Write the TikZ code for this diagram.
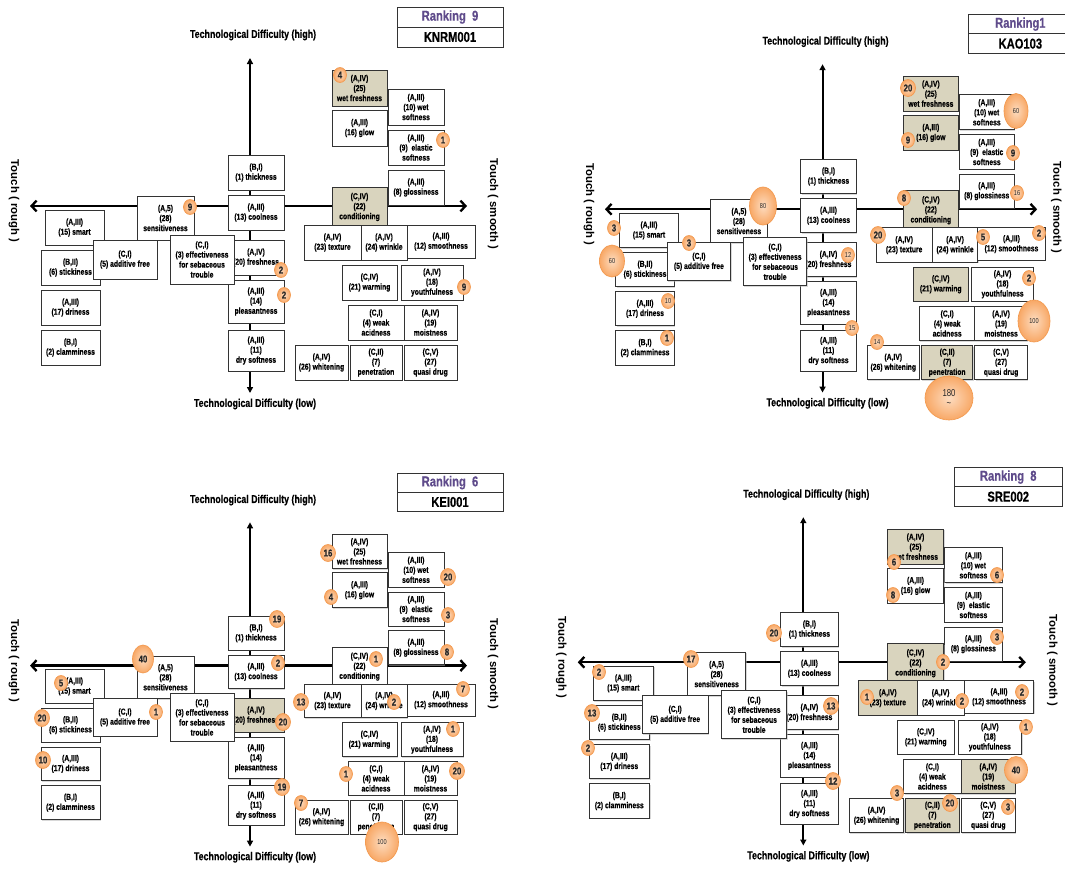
\documentclass[tikz,border=0pt]{standalone}
\usepackage{fontspec}
\setmainfont{Liberation Sans}
\newfontfamily\sqfont[FakeStretch=0.78, BoldFeatures={FakeBold=0.4}]{Liberation Sans}
\usetikzlibrary{arrows.meta,shapes.geometric,shadows}
\definecolor{shade}{HTML}{D9D4BE}
\definecolor{bubin}{HTML}{FDDCC0}
\definecolor{bubout}{HTML}{F8A866}
\definecolor{bubline}{HTML}{F39A50}
\definecolor{rankpurple}{HTML}{5F4B8B}
% one box of the map: name, x1, y1, x2, y2, text
\newcommand\mapbox[6]{\node[box, sh-#1/.try, anchor=north west, minimum width={\psx*(#4-#2)*0.6pt}, minimum height={\psy*(#5-#3)*0.6pt}] (\pn-#1) at (#2,#3) {#6};}
% one panel: prefix, shift, xscale, yscale, ranking, code, shaded boxes
\newcommand\mappanel[7]{%
	\begin{scope}[shift={#2}, xscale=#3, yscale=#4, #7]
		\def\pn{#1}\def\psx{#3}\def\psy{#4}
		%% axes
		\coordinate (\pn-n) at (250,58);
		\coordinate (\pn-s) at (250,393);
		\coordinate (\pn-w) at (30,206);
		\coordinate (\pn-e) at (467,206);
		\draw[vaxis] (\pn-n) -- (\pn-s);
		\draw[haxis] (\pn-w) -- (\pn-e);
		\node[axlbl] (\pn-high) at (253,35) {Technological Difficulty (high)};
		\node[axlbl] (\pn-low) at (255,404) {Technological Difficulty (low)};
		\node[sidelbl] (\pn-rough) at (14,201) {Touch ( rough )};
		\node[sidelbl, smoothlbl] (\pn-smooth) at (493,204) {Touch ( smooth )};
		\node[rankbox, text=rankpurple] (\pn-rank) at (450,17) {#5};
		\node[rankbox] (\pn-id) at (450,37) {#6};
		%% centre column
		\mapbox{thick}{228}{155}{284}{190}{(B,I)\\(1) thickness}
		\mapbox{cool}{228}{195}{284}{230}{(A,III)\\(13) coolness}
		\mapbox{fresh}{228}{240}{284}{275}{(A,IV)\\(20) freshness}
		\mapbox{pleas}{228}{280}{284}{323}{(A,III)\\(14)\\pleasantness}
		\mapbox{dry}{228}{330}{284}{371}{(A,III)\\(11)\\dry softness}
		%% rough side
		\mapbox{smart}{45}{210}{104}{245}{(A,III)\\(15) smart}
		\mapbox{stick}{41}{250}{100}{285}{(B,II)\\(6) stickiness}
		\mapbox{driness}{41}{290}{100}{325}{(A,III)\\(17) driness}
		\mapbox{clammy}{41}{330}{100}{365}{(B,I)\\(2) clamminess}
		\mapbox{sens}{137}{196}{194}{240}{(A,5)\\(28)\\sensitiveness}
		\mapbox{additive}{93}{240}{157}{279}{(C,I)\\(5) additive free}
		\mapbox{sebum}{170}{235}{234}{284}{(C,I)\\(3) effectiveness\\for sebaceous\\trouble}
		%% smooth side
		\mapbox{wetfresh}{332}{70}{387}{106}{(A,IV)\\(25)\\wet freshness}
		\mapbox{wetsoft}{388}{89}{444}{125}{(A,III)\\(10) wet\\softness}
		\mapbox{glow}{332}{110}{387}{146}{(A,III)\\(16) glow}
		\mapbox{elastic}{388}{130}{444}{165}{(A,III)\\(9)~ elastic\\softness}
		\mapbox{gloss}{388}{170}{444}{205}{(A,III)\\(8) glossiness}
		\mapbox{cond}{332}{187}{387}{227}{(C,IV)\\(22)\\conditioning}
		\mapbox{texture}{304}{225}{361}{260}{(A,IV)\\(23) texture}
		\mapbox{wrinkle}{361}{225}{407}{260}{(A,IV)\\(24) wrinkle}
		\mapbox{smooth}{407}{225}{475}{258}{(A,III)\\(12) smoothness}
		\mapbox{warm}{342}{265}{397}{300}{(C,IV)\\(21) warming}
		\mapbox{youth}{401}{265}{463}{300}{(A,IV)\\(18)\\youthfulness}
		\mapbox{acid}{348}{305}{404}{340}{(C,I)\\(4) weak\\acidness}
		\mapbox{moist}{404}{305}{457}{340}{(A,IV)\\(19)\\moistness}
		\mapbox{white}{295}{345}{348}{380}{(A,IV)\\(26) whitening}
		\mapbox{penet}{350}{345}{402}{380}{(C,II)\\(7)\\penetration}
		\mapbox{quasi}{404}{345}{457}{380}{(C,V)\\(27)\\quasi drug}
	\end{scope}}

\begin{document}
\begin{tikzpicture}[x=0.6pt, y=-0.6pt,
	box/.style={draw=black!80, fill=white, line width=0.5pt, inner sep=0pt, outer sep=0pt, align=center, drop shadow={shadow xshift=0.6pt, shadow yshift=-0.6pt, fill=black!30}, font=\sqfont\bfseries\fontsize{5.2}{6}\selectfont},
	vaxis/.style={line width=1.2pt, {Triangle[length=3.6pt,width=3.6pt]}-{Triangle[length=3.6pt,width=3.6pt]}},
	haxis/.style={line width=1.4pt, {Straight Barb[length=3pt,width=6.5pt]}-{Straight Barb[length=3pt,width=6.5pt]}},
	axlbl/.style={inner sep=0pt, font=\sqfont\bfseries\fontsize{6.8}{8}\selectfont},
	sidelbl/.style={inner sep=0pt, rotate=-90, font=\bfseries\fontsize{6.8}{8}\selectfont},
	smoothlbl/.style={},
	rankbox/.style={draw=black!80, fill=white, line width=0.5pt, inner sep=0pt, minimum width={\psx*106*0.6pt}, minimum height={\psy*20*0.6pt}, font=\sqfont\bfseries\fontsize{8.6}{10}\selectfont},
	bub/.style={ellipse, inner sep=0pt, draw=bubline, line width=0.4pt, inner color=bubin, outer color=bubout, minimum width=7.8pt, minimum height=9pt, font=\sqfont\bfseries\fontsize{6}{7}\selectfont, text=black!85},
	bubw/.style={bub, minimum width=9pt, minimum height=10.2pt},
	tinynum/.style={font=\sqfont\fontsize{4.3}{5}\selectfont}]
	%%%%% START %%%%%
	\fill[white] (0,0) rectangle (1065,877);
	\useasboundingbox (0,0) rectangle (1065,877);
	
	\mappanel{tl}{(0,0)}{1}{1}{Ranking\ \ 9}{KNRM001}{sh-wetfresh/.style={fill=shade}, sh-cond/.style={fill=shade}}
	\mappanel{tr}{(575.3,7.4)}{0.989}{0.98}{Ranking1}{KAO103}{sh-wetfresh/.style={fill=shade}, sh-glow/.style={fill=shade}, sh-cond/.style={fill=shade}, sh-warm/.style={fill=shade}, sh-penet/.style={fill=shade}, smoothlbl/.style={yshift=-4pt}}
	\mappanel{bl}{(0,466.2)}{1}{0.968}{Ranking\ \ 6}{KEI001}{sh-fresh/.style={fill=shade}}
	\mappanel{br}{(547,460.4)}{1.025}{0.98}{Ranking\ \ 8}{SRE002}{sh-wetfresh/.style={fill=shade}, sh-cond/.style={fill=shade}, sh-texture/.style={fill=shade}, sh-moist/.style={fill=shade}, sh-penet/.style={fill=shade}}
	
	%% counts, KNRM001
	\node[bub] (tl-b1) at (190,207) {9};
	\node[bub] (tl-b2) at (340,75) {4};
	\node[bub] (tl-b3) at (443,140) {1};
	\node[bub] (tl-b4) at (281,270) {2};
	\node[bub] (tl-b5) at (284,295) {2};
	\node[bub] (tl-b6) at (464,287) {9};
	
	%% counts, KAO103
	\node[bubw] (tr-b1) at (908,88) {20};
	\node[bub, tinynum, minimum width=14.4pt, minimum height=21pt] (tr-b2) at (1016,111) {60};
	\node[bub] (tr-b3) at (908,140) {9};
	\node[bub] (tr-b4) at (1013,153) {9};
	\node[bub, tinynum] (tr-b5) at (1017,193) {16};
	\node[bub] (tr-b6) at (904,198) {8};
	\node[bubw] (tr-b7) at (878,235) {20};
	\node[bub] (tr-b8) at (983,237) {5};
	\node[bub] (tr-b9) at (1039,233) {2};
	\node[bub] (tr-b10) at (1029,278) {2};
	\node[bub, tinynum, minimum width=19.2pt, minimum height=25.2pt] (tr-b11) at (1034,321) {100};
	\node[bub, tinynum] (tr-b12) at (848,255) {12};
	\node[bub, tinynum] (tr-b13) at (852,328) {15};
	\node[bub, tinynum] (tr-b14) at (877,342) {14};
	\node[bub, align=center, minimum width=28.8pt, minimum height=26.4pt, font=\sqfont\fontsize{6}{6.5}\selectfont] (tr-b15) at (949,398) {180\\\textasciitilde};
	\node[bub, tinynum, minimum width=16.2pt, minimum height=22.8pt] (tr-b16) at (763,206) {80};
	\node[bub] (tr-b17) at (614,228) {3};
	\node[bub, tinynum, minimum width=15pt, minimum height=19.2pt] (tr-b18) at (612,261) {60};
	\node[bub] (tr-b19) at (689,243) {3};
	\node[bub, tinynum] (tr-b20) at (668,301) {10};
	\node[bub] (tr-b21) at (667,338) {1};
	
	%% counts, KEI001
	\node[bub, minimum width=12.6pt, minimum height=16.8pt] (bl-b1) at (143,659) {40};
	\node[bub] (bl-b2) at (61,683) {5};
	\node[bubw] (bl-b3) at (42,718) {20};
	\node[bub] (bl-b4) at (156,712) {1};
	\node[bubw] (bl-b5) at (43,760) {10};
	\node[bubw] (bl-b6) at (277,619) {19};
	\node[bub] (bl-b7) at (278,663) {2};
	\node[bubw] (bl-b8) at (283,722) {20};
	\node[bubw] (bl-b9) at (301,702) {13};
	\node[bubw] (bl-b10) at (282,787) {19};
	\node[bub] (bl-b11) at (301,803) {7};
	\node[bubw] (bl-b12) at (328,553) {16};
	\node[bubw] (bl-b13) at (448,577) {20};
	\node[bub] (bl-b14) at (331,597) {4};
	\node[bub] (bl-b15) at (448,615) {3};
	\node[bub] (bl-b16) at (447,652) {8};
	\node[bub] (bl-b17) at (376,659) {1};
	\node[bub] (bl-b18) at (463,689) {7};
	\node[bub] (bl-b19) at (394,702) {2};
	\node[bub] (bl-b20) at (453,729) {1};
	\node[bubw] (bl-b21) at (457,771) {20};
	\node[bub] (bl-b22) at (346,774) {1};
	\node[bub, tinynum, minimum width=19.8pt, minimum height=24pt] (bl-b23) at (382,842) {100};
	
	%% counts, SRE002
	\node[bubw] (br-b1) at (774,633) {20};
	\node[bubw] (br-b2) at (691,659) {17};
	\node[bub] (br-b3) at (599,672) {2};
	\node[bubw] (br-b4) at (592,713) {13};
	\node[bub] (br-b5) at (588,748) {2};
	\node[bubw] (br-b6) at (831,706) {13};
	\node[bubw] (br-b7) at (833,781) {12};
	\node[bub] (br-b8) at (894,562) {6};
	\node[bub] (br-b9) at (997,575) {6};
	\node[bub] (br-b10) at (893,595) {8};
	\node[bub] (br-b11) at (997,637) {3};
	\node[bub] (br-b12) at (943,662) {2};
	\node[bub] (br-b13) at (867,697) {1};
	\node[bub] (br-b14) at (962,701) {2};
	\node[bub] (br-b15) at (1022,692) {2};
	\node[bub] (br-b16) at (1026,727) {1};
	\node[bub, minimum width=13.8pt, minimum height=16.2pt] (br-b17) at (1016,770) {40};
	\node[bub] (br-b18) at (897,793) {3};
	\node[bubw] (br-b19) at (950,803) {20};
	\node[bub] (br-b20) at (1008,807) {3};
	%%%%% END %%%%%
\end{tikzpicture}
\end{document}
